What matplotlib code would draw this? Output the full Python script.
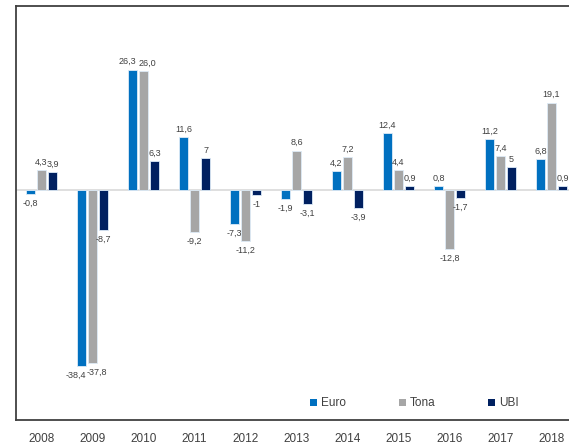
import numpy as np
import matplotlib.pyplot as plt
from matplotlib.patches import Patch

plt.rcParams['font.family'] = ['Liberation Sans Narrow', 'Liberation Sans', 'DejaVu Sans']

years = ["2008", "2009", "2010", "2011", "2012", "2013", "2014", "2015", "2016", "2017", "2018"]
euro = [-0.8, -38.4, 26.3, 11.6, -7.3, -1.9, 4.2, 12.4, 0.8, 11.2, 6.8]
tona = [4.3, -37.8, 26.0, -9.2, -11.2, 8.6, 7.2, 4.4, -12.8, 7.4, 19.1]
ubi = [3.9, -8.7, 6.3, 7, -1, -3.1, -3.9, 0.9, -1.7, 5, 0.9]

series = [("Euro", euro, "#0070C0"), ("Tona", tona, "#A6A6A6"), ("UBI", ubi, "#002060")]


def fmt(v):
    if isinstance(v, int):
        return str(v)
    return f"{v:.1f}".replace(".", ",")


fig = plt.figure(figsize=(5.69, 4.46), dpi=100)
ax = fig.add_axes([16 / 569, 26 / 446, 561 / 569, 414 / 446])

x = np.arange(len(years))
step = 0.216
width = 0.18
text_color = "#404040"

for i, (name, vals, color) in enumerate(series):
    pos = x + (i - 1) * step
    ax.bar(pos, vals, width, color=color, edgecolor="#DDEBF7", linewidth=0.6, label=name, zorder=3)
    for j, (p, v) in enumerate(zip(pos, vals)):
        # push apart Euro/Tona labels that would sit at the same height
        dx = 0
        if abs(euro[j] - tona[j]) < 2 and i < 2:
            dx = -4 if i == 0 else 3
        if v >= 0:
            ax.annotate(fmt(v), (p, v), xytext=(dx, 2.5), textcoords="offset points",
                        ha="center", va="bottom", fontsize=6.5, color=text_color)
        else:
            ax.annotate(fmt(v), (p, v), xytext=(dx, -3.5), textcoords="offset points",
                        ha="center", va="top", fontsize=6.5, color=text_color)

ax.axhline(0, color="#D9D9D9", linewidth=1.2, zorder=2)
ax.set_ylim(-50.2, 40.2)
ax.set_xlim(-0.5, 10.5)
ax.set_yticks([])
ax.set_xticks(x)
ax.set_xticklabels(years, fontsize=8.5, color=text_color)
ax.tick_params(axis="x", length=0, pad=9)

for side in ["top", "left", "bottom"]:
    ax.spines[side].set_color("#404040")
    ax.spines[side].set_linewidth(1.3)
ax.spines["right"].set_visible(False)

handles = [Patch(facecolor=c, edgecolor="none") for _, _, c in series]
ax.legend(handles, [n for n, _, _ in series], loc="center left", bbox_to_anchor=(0.505, 0.04),
          ncol=3, frameon=False, fontsize=8.5, handlelength=0.6, handleheight=0.6,
          handletextpad=0.3, columnspacing=4.5, labelcolor=text_color)

fig.savefig("out.png", dpi=100)
